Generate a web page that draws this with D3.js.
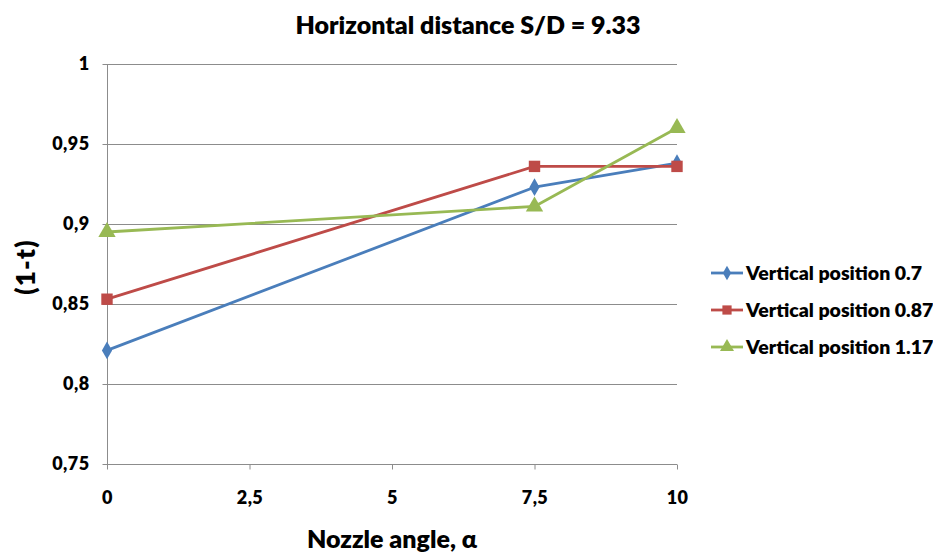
<!DOCTYPE html>
<html>
<head>
<meta charset="utf-8">
<script src="https://cdn.jsdelivr.net/npm/d3@7"></script>
<style>
  html, body { margin: 0; padding: 0; background: #fff; }
  svg { display: block; font-family: Lato, "Open Sans", "Liberation Sans", sans-serif; }
</style>
</head>
<body>
<svg id="chart" width="933" height="554"></svg>
<script>
// Nozzle angle positions on the x axis
const angles = [0, 7.5, 10];

// (1-t) values for each vertical position
const vp07 = [0.821, 0.923, 0.938];
const vp087 = [0.853, 0.936, 0.936];
const vp117 = [0.895, 0.911, 0.960];

const seriesNames = ["Vertical position 0.7", "Vertical position 0.87", "Vertical position 1.17"];
const seriesColors = ["#4A7EBB", "#BE4B48", "#98B954"];
const seriesSymbols = [d3.symbolDiamond, d3.symbolSquare, d3.symbolTriangle];

const xTicks = [0, 2.5, 5, 7.5, 10];
const yTicks = [0.75, 0.8, 0.85, 0.9, 0.95, 1];

const series = [vp07, vp087, vp117].map((vals, i) => ({
  name: seriesNames[i],
  color: seriesColors[i],
  symbol: seriesSymbols[i],
  points: vals.map((v, j) => ({ x: angles[j], y: v }))
}));

const svg = d3.select("#chart");
const plotLeft = 107, plotRight = 677, plotTop = 64, plotBottom = 464;

const x = d3.scaleLinear().domain([0, 10]).range([plotLeft, plotRight]);
const y = d3.scaleLinear().domain([0.75, 1]).range([plotBottom, plotTop]);

const comma = v => String(v).replace(".", ",");
const gridColor = "#8c8c8c";
const heavy = 800;

// horizontal gridlines
svg.append("g").selectAll("line").data(yTicks).join("line")
  .attr("x1", plotLeft).attr("x2", plotRight)
  .attr("y1", d => y(d) + 0.5).attr("y2", d => y(d) + 0.5)
  .attr("stroke", gridColor).attr("stroke-width", 1);

// y axis
const yAxis = svg.append("g").attr("transform", `translate(${plotLeft + 0.5},0)`)
  .call(d3.axisLeft(y).tickValues(yTicks).tickFormat(comma).tickSize(5).tickPadding(13));
yAxis.select(".domain").attr("stroke", gridColor).attr("d", `M0,${plotTop}V${plotBottom}`);
yAxis.selectAll(".tick line").attr("stroke", gridColor);
yAxis.selectAll(".tick text")
  .attr("font-size", 18).attr("font-weight", heavy).attr("fill", "#000")
  .attr("letter-spacing", 0.4)
  .attr("font-family", "Lato, 'Open Sans', sans-serif");

// x axis
const xAxis = svg.append("g").attr("transform", `translate(0,${plotBottom + 0.5})`)
  .call(d3.axisBottom(x).tickValues(xTicks).tickFormat(comma).tickSize(5));
xAxis.select(".domain").attr("stroke", gridColor).attr("d", `M${plotLeft},0H${plotRight}`);
xAxis.selectAll(".tick line").attr("stroke", gridColor);
xAxis.selectAll(".tick text")
  .attr("y", 39).attr("dy", null)
  .attr("font-size", 18).attr("font-weight", heavy).attr("fill", "#000")
  .attr("letter-spacing", 0.4)
  .attr("font-family", "Lato, 'Open Sans', sans-serif");

// lines and markers
const line = d3.line().x(d => x(d.x)).y(d => y(d.y));
series.forEach(s => {
  svg.append("path").datum(s.points)
    .attr("d", line).attr("fill", "none")
    .attr("stroke", s.color).attr("stroke-width", 2.8)
    .attr("stroke-linejoin", "round");
  svg.append("g").selectAll("path").data(s.points).join("path")
    .attr("transform", d => `translate(${x(d.x)},${y(d.y)})`)
    .attr("d", d3.symbol().type(s.symbol).size(s.symbol === d3.symbolDiamond ? 90 : 130))
    .attr("fill", s.color);
});

// title
svg.append("text").attr("x", 468).attr("y", 34).attr("text-anchor", "middle")
  .attr("font-size", 25).attr("font-weight", heavy).text("Horizontal distance S/D = 9.33");

// axis titles
svg.append("text").attr("x", 392).attr("y", 548).attr("text-anchor", "middle")
  .attr("font-size", 25).attr("font-weight", heavy).text("Nozzle angle, α");
svg.append("text").attr("transform", "translate(35,267) rotate(-90)").attr("text-anchor", "middle")
  .attr("font-size", 26).attr("font-weight", heavy).attr("letter-spacing", 1.2).text("(1-t)");

// legend
const legend = svg.append("g").selectAll("g").data(series).join("g")
  .attr("transform", (d, i) => `translate(711,${273 + i * 37})`);
legend.append("line").attr("x1", 0).attr("x2", 32).attr("y1", 0).attr("y2", 0)
  .attr("stroke", d => d.color).attr("stroke-width", 2.8);
legend.append("path").attr("transform", "translate(16,0)")
  .attr("d", d => d3.symbol().type(d.symbol).size(d.symbol === d3.symbolDiamond ? 60 : 85)())
  .attr("fill", d => d.color);
legend.append("text").attr("x", 35).attr("y", 7)
  .attr("font-size", 19.5).attr("font-weight", heavy).text(d => d.name);
</script>
</body>
</html>
